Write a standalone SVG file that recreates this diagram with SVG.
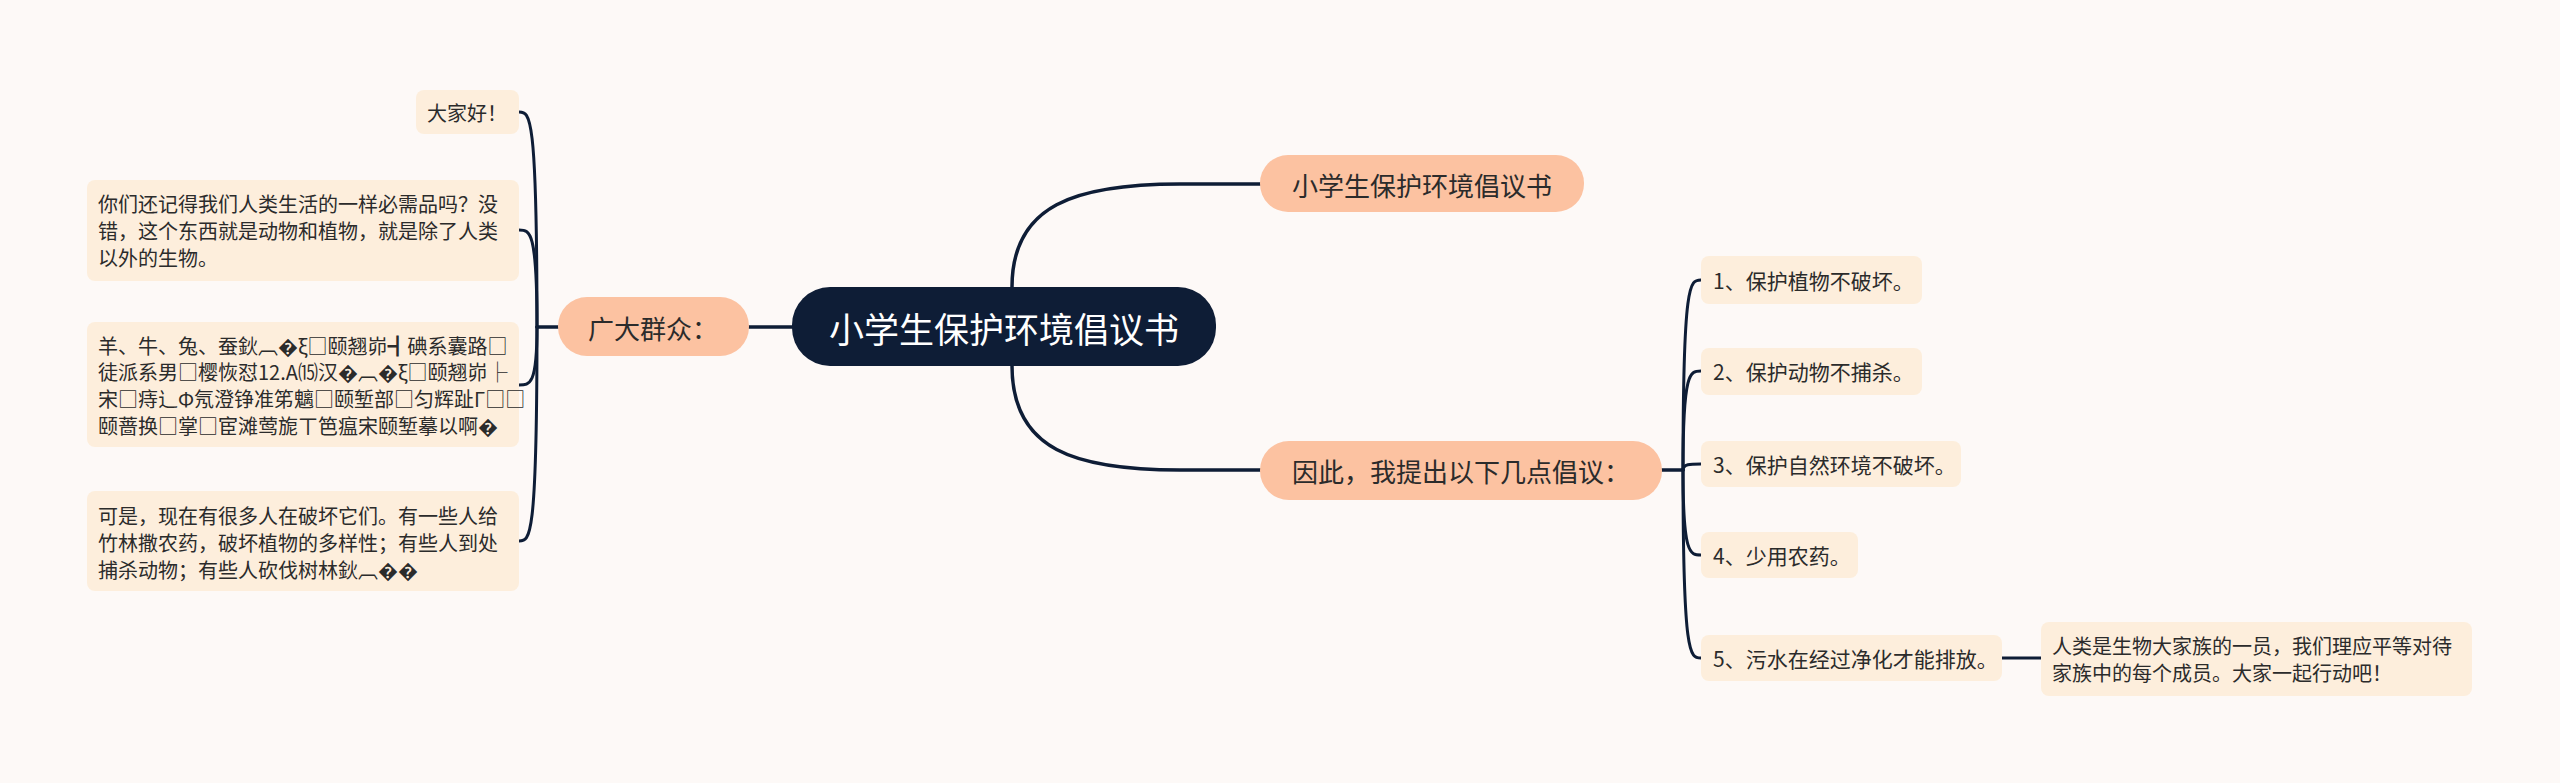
<svg xmlns="http://www.w3.org/2000/svg" width="2560" height="783" viewBox="0 0 2560 783">
<style>
text{font-family:"Noto Sans CJK SC","Liberation Sans",sans-serif;dominant-baseline:central;fill:#2b2b2b}
.root rect{fill:#0e1d36}
.root text{fill:#ffffff;font-size:35px;text-anchor:middle}
.main rect{fill:#fcc2a1}
.main text{font-size:26px;text-anchor:middle}
.leaf rect{fill:#fdeedc}
.leaf text{font-size:20px}
.num text{font-size:21px}
.conn path{fill:none;stroke:#0e1d36;stroke-width:3.5;stroke-linecap:round}
.conn .thin{stroke-width:3}
</style>
<rect width="2560" height="783" fill="#fdf9f7"/>
<g class="conn">
<path d="M792 327 L749 327"/>
<path d="M1012 287 C1012 205 1075 184 1180 184 L1260 184"/>
<path d="M1012 366 C1012 450 1075 470 1180 470 L1260 470"/>
<path d="M558 327 L537 327"/>
<path class="thin" d="M537 327 C537 112 530 112 519 112"/>
<path class="thin" d="M537 327 C537 230 530 230 519 230"/>
<path class="thin" d="M537 327 C537 385 530 385 519 385"/>
<path class="thin" d="M537 327 C537 541 530 541 519 541"/>
<path d="M1662 470 L1683 470"/>
<path class="thin" d="M1683 470 C1683 280 1690 280 1701 280"/>
<path class="thin" d="M1683 470 C1683 371 1690 371 1701 371"/>
<path class="thin" d="M1683 470 C1683 464 1690 464 1701 464"/>
<path class="thin" d="M1683 470 C1683 555 1690 555 1701 555"/>
<path class="thin" d="M1683 470 C1683 658 1690 658 1701 658"/>
<path class="thin" d="M2002 658 L2041 658"/>
</g>
<g id="root" class="root"><rect x="792" y="287" width="424" height="79" rx="38"/><text x="1004" y="327">小学生保护环境倡议书</text></g>
<g id="n-title" class="main"><rect x="1260" y="155" width="324" height="57" rx="28"/><text x="1422" y="184">小学生保护环境倡议书</text></g>
<g id="n-prop" class="main"><rect x="1260" y="441" width="402" height="59" rx="29"/><text x="1461" y="470">因此，我提出以下几点倡议：</text></g>
<g id="n-public" class="main"><rect x="558" y="297" width="191" height="59" rx="29"/><text x="653" y="327">广大群众：</text></g>
<g id="l-hello" class="leaf"><rect x="416" y="90" width="103" height="44" rx="8"/><text x="427" y="112">大家好！</text></g>
<g id="l-remember" class="leaf"><rect x="87" y="180" width="432" height="101" rx="8"/>
<text x="98" y="203">你们还记得我们人类生活的一样必需品吗？没</text>
<text x="98" y="230">错，这个东西就是动物和植物，就是除了人类</text>
<text x="98" y="257">以外的生物。</text></g>
<g id="l-animals" class="leaf"><rect x="87" y="322" width="432" height="125" rx="8"/>
<text x="98" y="345">羊、牛、兔、蚕鈥︹�ξ□颐翘峁┫碘系囊路□</text>
<text x="98" y="371">徒派系男□樱恢怼12.A⒂汉�︹�ξ□颐翘峁├</text>
<text x="98" y="398">宋□痔辶Φ氖澄铮准笫魑□颐堑部□匀辉趾Γ□□</text>
<text x="98" y="425">颐蔷换□掌□宦滩莺旎ㄒ笆瘟宋颐堑摹以啊�</text></g>
<g id="l-destroy" class="leaf"><rect x="87" y="491" width="432" height="100" rx="8"/>
<text x="98" y="515">可是，现在有很多人在破坏它们。有一些人给</text>
<text x="98" y="542">竹林撒农药，破坏植物的多样性；有些人到处</text>
<text x="98" y="569">捕杀动物；有些人砍伐树林鈥︹��</text></g>
<g id="r-1" class="leaf num"><rect x="1701" y="256" width="221" height="48" rx="8"/><text x="1713" y="280">1、保护植物不破坏。</text></g>
<g id="r-2" class="leaf num"><rect x="1701" y="348" width="221" height="47" rx="8"/><text x="1713" y="371">2、保护动物不捕杀。</text></g>
<g id="r-3" class="leaf num"><rect x="1701" y="441" width="260" height="46" rx="8"/><text x="1713" y="464">3、保护自然环境不破坏。</text></g>
<g id="r-4" class="leaf num"><rect x="1701" y="532" width="157" height="46" rx="8"/><text x="1713" y="555">4、少用农药。</text></g>
<g id="r-5" class="leaf num"><rect x="1701" y="635" width="301" height="46" rx="8"/><text x="1713" y="658">5、污水在经过净化才能排放。</text></g>
<g id="r-5a" class="leaf"><rect x="2041" y="622" width="431" height="74" rx="8"/>
<text x="2052" y="645">人类是生物大家族的一员，我们理应平等对待</text>
<text x="2052" y="672">家族中的每个成员。大家一起行动吧！</text></g>
</svg>
